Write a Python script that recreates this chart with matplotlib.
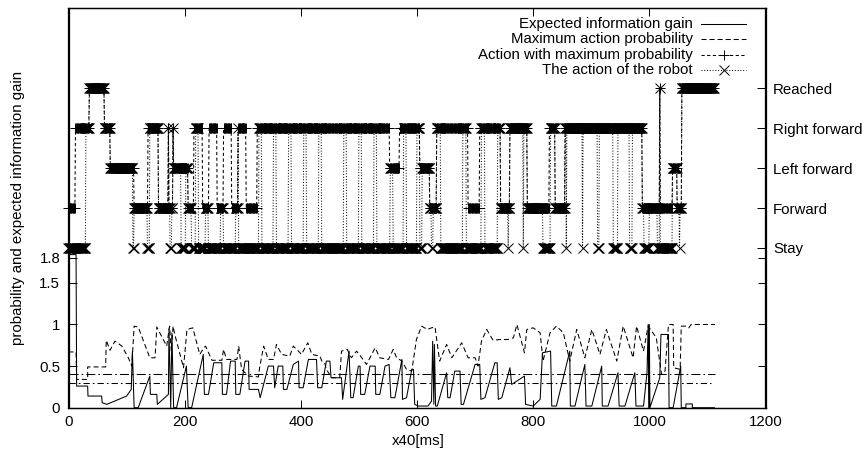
import numpy as np
import matplotlib
matplotlib.use("Agg")
import matplotlib.pyplot as plt

plt.rcParams['font.family'] = ['Liberation Sans', 'DejaVu Sans']
plt.rcParams['lines.scale_dashes'] = False
FS = 10.8

# ---------------- data ----------------
action_labels = ["Stay", "Forward", "Left forward", "Right forward", "Reached"]
action_levels = [0, 1, 2, 3, 4]
n_steps = 1112

# action with maximum probability: (start, end, level)
max_prob_action_segments = [
    (0, 12, 1), (12, 36, 3), (36, 62, 4), (62, 72, 3), (72, 113, 2),
    (113, 137, 1), (137, 155, 3), (155, 172, 1), (172, 173, 3), (173, 180, 1),
    (180, 181, 3), (181, 206, 2), (206, 216, 1), (216, 231, 3), (231, 242, 1),
    (242, 256, 3), (256, 267, 1), (267, 281, 3), (281, 292, 1), (292, 306, 3),
    (306, 325, 1), (325, 553, 3), (553, 570, 2), (570, 605, 3), (605, 622, 2),
    (622, 634, 1), (634, 688, 3), (688, 708, 1), (708, 744, 3), (744, 760, 1),
    (760, 790, 3), (790, 828, 1), (828, 838, 3), (838, 855, 1), (855, 988, 3),
    (988, 1018, 1), (1018, 1019, 4), (1019, 1040, 1), (1040, 1048, 2),
    (1048, 1056, 1), (1056, 1112, 4),
]

# intervals where the robot stays (otherwise it executes the max-probability action)
robot_stay_intervals = [
    (0, 30), (111, 113), (136, 140), (175, 178), (194, 202),
    (212, 219), (224, 236), (241, 262), (267, 288), (293, 328), (333, 353),
    (358, 379), (384, 405), (410, 431), (436, 474), (479, 500), (505, 526),
    (531, 554), (559, 577), (582, 600), (605, 609), (625, 628), (641, 679),
    (685, 711), (717, 739), (757, 758), (783, 784), (817, 830), (857, 858),
    (885, 886), (911, 914), (938, 946), (966, 971), (991, 1000), (1014, 1018),
    (1019, 1040), (1052, 1053),
]

info_gain_points = [
    (0, 1.92), (1, 1.84), (13, 1.84), (14, 0.26), (33, 0.26), (33.5, 0.14), (57, 0.14),
    (58, 0.06), (66, 0.04), (100, 0.14), (108, 0.22), (110, 0.68), (113, 0.0), (120, 0.0),
    (140, 0.38), (141, 0.16), (152, 0.16), (153, 0.04), (172, 0.16), (173, 0.95), (176, 0.0),
    (178, 0.9), (181, 0.0), (186, 0.0), (203, 0.5), (206, 0.0), (212, 0.0), (232, 0.64),
    (234, 0.16), (241, 0.16), (250, 0.54), (264, 0.54), (265, 0.16), (272, 0.16), (279, 0.56),
    (287, 0.56), (288, 0.16), (295, 0.16), (304, 0.56), (310, 0.56), (311, 0.22), (327, 0.22),
    (330, 0.12), (344, 0.50), (353, 0.50), (355, 0.24), (361, 0.50), (369, 0.50), (370, 0.22),
    (376, 0.22), (387, 0.52), (396, 0.56), (397, 0.24), (404, 0.24), (413, 0.58), (427, 0.58),
    (429, 0.24), (436, 0.24), (444, 0.56), (450, 0.56), (452, 0.36), (470, 0.36), (472, 0.10),
    (483, 0.68), (486, 0.12), (490, 0.12), (499, 0.50), (502, 0.50), (503, 0.16), (510, 0.16),
    (519, 0.50), (528, 0.50), (529, 0.16), (536, 0.16), (545, 0.50), (552, 0.52), (555, 0.12),
    (562, 0.12), (574, 0.58), (575, 0.10), (582, 0.12), (591, 0.46), (594, 0.46), (596, 0.04),
    (602, 0.02), (619, 0.02), (625, 0.08), (627, 0.80), (629, 0.04), (630, 0.76), (632, 0.02),
    (635, 0.02), (651, 0.42), (653, 0.12), (657, 0.12), (665, 0.44), (674, 0.44), (676, 0.04),
    (680, 0.04), (700, 0.52), (708, 0.52), (710, 0.10), (717, 0.12), (734, 0.54), (738, 0.54),
    (740, 0.10), (746, 0.12), (760, 0.48), (763, 0.28), (785, 0.38), (787, 0.04), (800, 0.02),
    (812, 0.10), (816, 0.66), (830, 0.68), (832, 0.02), (840, 0.02), (863, 0.68), (864, 0.02),
    (872, 0.02), (889, 0.52), (891, 0.02), (901, 0.02), (918, 0.50), (919, 0.02), (929, 0.02),
    (946, 0.42), (948, 0.02), (958, 0.02), (975, 0.42), (977, 0.02), (990, 0.02), (996, 0.42),
    (998, 1.0), (999, 0.0), (1000, 1.0), (1001, 0.0), (1018, 0.36), (1020, 0.88), (1033, 0.88),
    (1034, 0.0), (1041, 0.0), (1054, 0.50), (1055, 0.0), (1063, 0.0), (1063, 0.045),
    (1074, 0.045), (1074, 0.0), (1112, 0.0),
]

max_prob_points = [
    (0, 0.67), (13, 0.67), (14, 0.34), (33, 0.34), (33, 0.49), (64, 0.49), (65, 0.81),
    (71.5, 0.69), (80, 0.80), (92, 0.74), (103, 0.60), (109, 0.50), (113, 0.98), (120, 0.97),
    (140, 0.60), (149, 0.60), (152, 0.97), (169, 0.74), (174, 0.98), (177, 0.68), (180, 0.98),
    (183, 0.88), (198, 0.48), (204, 0.94), (214, 0.96), (226, 0.64), (233, 0.72), (236, 0.74),
    (247, 0.57), (264, 0.57), (267, 0.70), (272, 0.58), (290, 0.58), (293, 0.74), (298, 0.46),
    (310, 0.38), (327, 0.37), (329, 0.48), (336, 0.74), (344, 0.58), (353, 0.58), (358, 0.76),
    (367, 0.64), (381, 0.62), (387, 0.74), (396, 0.68), (401, 0.64), (412, 0.78), (419, 0.64),
    (433, 0.62), (436, 0.56), (441, 0.54), (444, 0.46), (453, 0.36), (467, 0.36), (470, 0.68),
    (480, 0.70), (487, 0.60), (496, 0.68), (505, 0.60), (513, 0.52), (528, 0.72), (536, 0.60),
    (551, 0.58), (559, 0.70), (565, 0.60), (574, 0.56), (582, 0.46), (591, 0.44), (599, 0.82),
    (608, 0.98), (618, 0.94), (625, 0.96), (631, 0.97), (639, 0.56), (651, 0.76), (660, 0.60),
    (677, 0.78), (688, 0.60), (700, 0.60), (705, 0.50), (711, 0.80), (720, 0.94), (731, 0.81),
    (743, 0.82), (757, 0.82), (766, 0.84), (772, 1.0), (785, 0.66), (789, 0.94), (800, 0.96),
    (812, 0.90), (817, 0.56), (829, 0.90), (840, 0.98), (852, 0.90), (863, 0.56), (875, 0.94),
    (889, 0.60), (901, 0.94), (915, 0.64), (926, 0.94), (944, 0.56), (955, 0.98), (972, 0.60),
    (978, 0.98), (990, 0.68), (998, 0.98), (1012, 0.84), (1021, 0.40), (1027, 0.44),
    (1033, 1.0), (1041, 1.0), (1042, 0.48), (1053, 0.46), (1055, 0.98), (1064, 0.98),
    (1068, 0.96), (1072, 1.0), (1113, 1.0),
]

threshold_upper = 0.4
threshold_lower = 0.3
threshold_upper_end = 1113
threshold_lower_end = 1107

x_ticks = [0, 200, 400, 600, 800, 1000, 1200]
y_ticks = [0, 0.5, 1, 1.5, 1.8]
y_tick_labels = ["0", "0.5", "1", "1.5", "1.8"]

legend_labels = ["Expected information gain", "Maximum action probability",
                 "Action with maximum probability", "The action of the robot"]

# ---------------- build series ----------------
t = np.arange(n_steps)
max_action = np.zeros(n_steps)
for s, e, lv in max_prob_action_segments:
    max_action[s:e] = lv
robot_action = max_action.copy()
for s, e in robot_stay_intervals:
    robot_action[s:e] = 0

ig_x, ig_y = zip(*info_gain_points)
mp_x, mp_y = zip(*max_prob_points)

# ---------------- styles ----------------
LW = 0.75
dash_prob = (0, (3.6, 2.2))
dash_maxact = (0, (2.3, 1.8))
dot_robot = (0, (0.7, 1.3))
dash_th_up = (0, (6.5, 2.2, 1.2, 2.2))
dash_th_lo = (0, (4.5, 2.2, 1.2, 2.2))
MS = 7.0
MEW = 0.7

fig = plt.figure(figsize=(8.64, 4.57), dpi=100)
ax = fig.add_axes([68.5 / 864, 1 - 407.7 / 457, 697 / 864, 399.4 / 457])
ax2 = ax.twinx()

# lower panel
ax.plot(ig_x, ig_y, color='k', lw=LW, ls='-')
ax.plot(mp_x, mp_y, color='k', lw=LW, ls=dash_prob)
ax.plot([0, threshold_upper_end], [threshold_upper, threshold_upper], color='k', lw=LW, ls=dash_th_up)
ax.plot([0, threshold_lower_end], [threshold_lower, threshold_lower], color='k', lw=LW, ls=dash_th_lo)

# upper panel (actions)
ax2.plot(t, max_action, color='k', lw=LW, ls=dash_maxact, marker='+', ms=MS, mew=MEW, clip_on=False)
ax2.plot(t, robot_action, color='k', lw=LW, ls=dot_robot, marker='x', ms=MS, mew=MEW, clip_on=False)

ax.set_xlim(0, 1200)
ax.set_ylim(0, 4.8)
ax2.set_ylim(-4, 6)

ax.set_xticks(x_ticks)
ax.set_xticklabels([str(v) for v in x_ticks], fontsize=FS)
ax.set_yticks(y_ticks)
ax.set_yticklabels(y_tick_labels, fontsize=FS)
ax.tick_params(axis='both', direction='in', length=5.5, width=0.7, top=True, right=True)
ax.tick_params(axis='x', pad=5)
ax.tick_params(axis='y', pad=6)

ax2.set_yticks(action_levels)
ax2.set_yticklabels(action_labels, fontsize=FS)
ax2.tick_params(axis='y', direction='in', length=5.5, width=0.7, pad=5.5)

for a in (ax, ax2):
    for sp in a.spines.values():
        sp.set_linewidth(0.9)

fig.text(418 / 864, 1 - 441 / 457, "x40[ms]", ha='center', va='center', fontsize=FS)
fig.text(18 / 864, 1 - 208 / 457, "probability and expected information gain",
         ha='center', va='center', rotation=90, fontsize=FS)

# legend (gnuplot style: text right aligned, sample to the right)
def axx(px):
    return (px - 68.5) / 697
def axy(py):
    return (407.7 - py) / 399.4

rows_py = [24, 39.3, 54.6, 70]
styles = [dict(ls='-'), dict(ls=dash_prob), dict(ls=dash_maxact), dict(ls=dot_robot)]
markers = [None, None, '+', 'x']
for i, lab in enumerate(legend_labels):
    y = axy(rows_py[i])
    ax.text(axx(693), y, lab, ha='right', va='center', fontsize=FS, transform=ax.transAxes)
    ax.plot([axx(701), axx(746)], [y, y], color='k', lw=LW, transform=ax.transAxes,
            clip_on=False, **styles[i])
    if markers[i]:
        ax.plot([axx(723.5)], [y], color='k', marker=markers[i], ms=MS, mew=MEW,
                ls='none', transform=ax.transAxes, clip_on=False)

fig.savefig("out.png", dpi=100)
